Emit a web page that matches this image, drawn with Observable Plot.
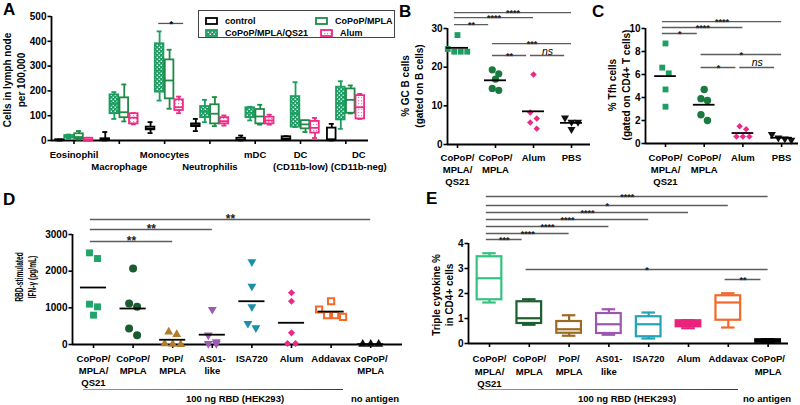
<!DOCTYPE html>
<html><head><meta charset="utf-8">
<script src="https://cdn.jsdelivr.net/npm/d3@7"></script>
<script src="https://cdn.jsdelivr.net/npm/@observablehq/plot@0.6"></script>
<style>
html,body{margin:0;padding:0;background:#fff;}
#root{position:relative;width:800px;height:405px;overflow:hidden;font-family:"Liberation Sans",Arial,Helvetica,sans-serif;font-weight:bold;color:#000;}
#root svg.layer{position:absolute;left:0;top:0;}
.t{position:absolute;white-space:nowrap;line-height:1;}
.ytitle{position:absolute;white-space:nowrap;text-align:center;transform-origin:center;}
#legA{position:absolute;left:198px;top:10px;width:195px;height:26px;border:1.5px solid #444;font-size:9px;}
#legA .it{position:absolute;display:flex;align-items:center;white-space:nowrap;}
#legA svg{margin-right:7px;}
</style></head><body>
<svg width="0" height="0" style="position:absolute">
 <defs>
  <pattern id="chk" patternUnits="userSpaceOnUse" width="4" height="4">
   <rect width="4" height="4" fill="#1e9e62"/>
   <rect x="0.6" y="0.6" width="1.4" height="1.4" fill="#fff"/>
   <rect x="2.6" y="2.6" width="1.4" height="1.4" fill="#fff"/>
  </pattern>
  <pattern id="dots" patternUnits="userSpaceOnUse" width="3" height="3">
   <rect width="3" height="3" fill="#fff"/>
   <rect x="1" y="1" width="1.2" height="1.2" fill="#f27fb2"/>
  </pattern>
 </defs>
</svg>
<div id="root"></div>
<script>
// ================= DATA =================
// Panel A : box summaries [lowWhisker, q1, median, q3, highWhisker]
const aCells = ["Eosinophil","Macrophage","Monocytes","Neutrophilis","mDC","DC\n(CD11b-low)","DC\n(CD11b-neg)"];
const aSeries = ["control","CoPoP/MPLA/QS21","CoPoP/MPLA","Alum"];
const aControl = [[0,0,1,3,4],[0,0,2,7,34],[30,43,48,54,74],[38,56,62,67,87],[0,0,2,9,20],[2,3,8,15,17],[0,2,4,50,67]];
const aQS21    = [[8,10,15,20,24],[87,108,148,184,195],[161,195,282,390,440],[74,92,117,137,164],[81,92,112,132,136],[54,54,110,177,235],[47,83,150,215,239]];
const aMPLA    = [[4,7,14,27,38],[77,92,114,172,226],[128,168,242,325,366],[58,67,108,144,175],[64,67,97,125,144],[34,47,65,80,80],[109,110,164,208,222]];
const aAlum    = [[0,0,4,9,11],[65,67,92,108,110],[110,121,134,164,177],[60,67,78,92,101],[64,67,81,94,104],[10,30,51,77,91],[87,87,134,181,188]];
const aTicks = [0,100,200,300,400,500];
const aSigCell = [2], aSigFrom = [1], aSigTo = [3], aSigY = [472], aSigText = ["*"];

// Panel B : % GC B cells
const bCats = ["CoPoP/\nMPLA/\nQS21","CoPoP/\nMPLA","Alum","PBS"];
const bQS21 = [28.3,24.7,24.0,24.0,24.0];
const bMPLA = [19.3,18.3,16.9,14.5,14.0];
const bAlum = [18.1,8.3,6.7,5.7,4.1];
const bPBS  = [6.9,5.8,5.8,3.9];
const bTicks = [0,10,20,30];
const bSigFrom = [0,0,0,1,1,2], bSigTo = [3,2,1,3,2,3];
const bSigY = [34.1,32.8,31.0,26.1,23.0,23.0];
const bSigText = ["****","****","**","***","**","ns"];

// Panel C : % Tfh cells
const cCats = ["CoPoP/\nMPLA/\nQS21","CoPoP/\nMPLA","Alum","PBS"];
const cQS21 = [8.7,6.6,6.1,4.7,3.2];
const cMPLA = [4.7,3.9,3.75,2.5,2.0];
const cAlum = [1.5,1.25,0.6,0.6,0.6];
const cPBS  = [0.8,0.5,0.4,0.3];
const cTicks = [0,2,4,6,8,10];
const cSigFrom = [0,0,0,1,1,2], cSigTo = [3,2,1,3,2,3];
const cSigY = [10.6,10.09,9.57,7.74,6.61,6.61];
const cSigText = ["****","****","*","*","*","ns"];

// Panel D : RBD-stimulated IFN-γ (pg/mL)
const dCats = ["CoPoP/\nMPLA/\nQS21","CoPoP/\nMPLA","PoP/\nMPLA","AS01-\nlike","ISA720","Alum","Addavax","CoPoP/\nMPLA"];
const dQS21 = [2500,2345,1100,1027,800];
const dMPLA = [2073,1118,1027,436,255];
const dPoP  = [345,273,20,9,0];
const dAS01 = [955,255,73,27,27];
const dISA  = [2255,1590,1027,573,455];
const dAlum = [1410,1180,318,27,27];
const dAdda = [1180,955,800,800,755];
const dNoAg = [10,10,10];
const dTicks = [0,1000,2000,3000];
const dSigFrom = [0,0,0], dSigTo = [7,3,2];
const dSigY = [3409,3136,2809];
const dSigText = ["**","**","**"];

// Panel E : triple cytokine % in CD4+ cells (box summaries)
const eCats = dCats;
const eLo  = [1.64,0.75,0.31,0.35,0.20,0.61,0.64,0.03];
const eQ1  = [1.75,0.80,0.41,0.40,0.27,0.67,0.93,0.05];
const eMed = [2.61,1.01,0.57,0.77,0.77,0.80,1.64,0.10];
const eQ3  = [3.47,1.67,0.88,1.20,1.07,0.91,1.91,0.15];
const eHi  = [3.61,1.77,1.13,1.37,1.24,0.93,2.01,0.17];
const eTicks = [0,1,2,3,4];
const eSigFrom = [0,0,0,0,0,0,0,1,6], eSigTo = [7,6,5,4,3,2,1,7,7];
const eSigY = [5.88,5.52,5.24,4.96,4.68,4.40,4.16,2.96,2.56];
const eSigText = ["****","*","****","****","****","****","***","*","**"];

// ================= HELPERS =================
const W = 800, H = 405;
const FONT = '"Liberation Sans", Arial, Helvetica, sans-serif';
const root = document.getElementById("root");
const TRI_DOWN = {draw(ctx, size){ const y = -Math.sqrt(size/(Math.sqrt(3)*3)); ctx.moveTo(0,-y*2); ctx.lineTo(-Math.sqrt(3)*y, y); ctx.lineTo(Math.sqrt(3)*y, y); ctx.closePath(); }};

function layout(l){ // pixel layout -> domains
  return Object.assign({}, l, {xdom:[(l.left-l.first)/l.step,(l.right-l.first)/l.step], kx:l.step, ky:(l.bottom-l.top)/(l.ydom[1]-l.ydom[0])});
}
const LA = layout({left:51,right:368,top:16,bottom:140,first:73.5,step:45.3,ydom:[0,500]});
const LB = layout({left:447,right:590,top:28,bottom:144,first:457,step:38,ydom:[0,30]});
const LC = layout({left:645,right:798,top:28,bottom:143,first:665,step:38.7,ydom:[0,10]});
const LD = layout({left:72,right:402,top:234,bottom:344,first:93,step:39.6,ydom:[0,3000]});
const LE = layout({left:468,right:788,top:243,bottom:343,first:489,step:39.8,ydom:[0,4]});

function axes(p, yticks, nCats){
  return [
    Plot.axisY(yticks, {anchor:"left", tickSize:3.5, tickPadding:1.5, strokeWidth:1.6, label:null, tickFormat:d=>String(d)}),
    Plot.axisX(d3.range(nCats), {anchor:"bottom", tickSize:4, tickFormat:()=>"", strokeWidth:1.6, label:null}),
    Plot.ruleX([p.xdom[0]], {y1:p.ydom[0], y2:p.ydom[1], strokeWidth:1.8}),
    Plot.ruleY([p.ydom[0]], {x1:p.xdom[0], x2:p.xdom[1], strokeWidth:1.8})
  ];
}
function catLabels(p, cats, dy, fs, lh){
  return Plot.text(d3.range(cats.length), {x:d=>d, y:p.ydom[0], text:d=>cats[d], lineAnchor:"top", dy, fontSize:fs, lineHeight:lh});
}
function mkPlot(p, marks){
  const svg = Plot.plot({
    width:W, height:H,
    marginLeft:p.left, marginRight:W-p.right, marginTop:p.top, marginBottom:H-p.bottom,
    x:{domain:p.xdom}, y:{domain:p.ydom},
    style:{background:"transparent", fontFamily:FONT, fontWeight:"bold", fontSize:"10px", color:"#000", overflow:"visible"},
    marks
  });
  svg.classList.add("layer");
  root.appendChild(svg);
}
function boxMarks(rows, {hw, cap, stroke, fill, sw}){
  return [
    Plot.ruleX(rows, {x:"x", y1:"lo", y2:"q1", stroke, strokeWidth:sw}),
    Plot.ruleX(rows, {x:"x", y1:"q3", y2:"hi", stroke, strokeWidth:sw}),
    Plot.ruleY(rows, {y:"lo", x1:d=>d.x-cap, x2:d=>d.x+cap, stroke, strokeWidth:sw}),
    Plot.ruleY(rows, {y:"hi", x1:d=>d.x-cap, x2:d=>d.x+cap, stroke, strokeWidth:sw}),
    Plot.rect(rows, {x1:d=>d.x-hw, x2:d=>d.x+hw, y1:"q1", y2:"q3", fill, stroke, strokeWidth:sw}),
    Plot.ruleY(rows, {y:"med", x1:d=>d.x-hw, x2:d=>d.x+hw, stroke, strokeWidth:sw})
  ];
}
function swarm(vals, idx, p, diam){
  const order = vals.map((v,i)=>i).sort((a,b)=>vals[b]-vals[a]);
  const rows = [];
  for (const i of order){
    const py = vals[i]*p.ky, r = rows[rows.length-1];
    if (r && Math.abs(r.y0-py) < diam) r.m.push(i); else rows.push({y0:py, m:[i]});
  }
  const out = [];
  for (const r of rows){ const n = r.m.length; r.m.forEach((i,j)=>out.push({x: idx + (j-(n-1)/2)*diam/p.kx, v: vals[i]})); }
  return out;
}
function scatterMarks(p, groups, diam, meanHalf){
  const marks = [];
  groups.forEach((g,i)=>{
    marks.push(Plot.dot(swarm(g.vals, i, p, diam), {x:"x", y:"v", symbol:g.sym, r:g.r, fill:g.fill, stroke:g.stroke||"none", strokeWidth:g.sw||0}));
  });
  const means = groups.map((g,i)=>({i, m:d3.mean(g.vals)}));
  marks.push(Plot.ruleY(means, {y:"m", x1:d=>d.i-meanHalf, x2:d=>d.i+meanHalf, stroke:"#000", strokeWidth:1.8}));
  return marks;
}
function sigMarks(from, to, ys, texts, fs){
  const rows = from.map((a,i)=>{ const b = to[i]; const x1 = a-0.08, x2 = b-(b-a===1?0.18:0); return {x1, x2, y:ys[i], t:texts[i], xm:(x1+x2)/2}; });
  return [
    Plot.ruleY(rows, {y:"y", x1:"x1", x2:"x2", stroke:"#5c5c5c", strokeWidth:1.4}),
    Plot.text(rows.filter(r=>r.t!=="ns"), {x:"xm", y:"y", text:"t", lineAnchor:"bottom", dy:3.5, fontSize:fs, fill:"#222"}),
    Plot.text(rows.filter(r=>r.t==="ns"), {x:"xm", y:"y", text:"t", lineAnchor:"bottom", dy:-1, fontSize:10.5, fontStyle:"italic", fontWeight:"normal"})
  ];
}
function addText(txt, left, top, cls, css){
  const d = document.createElement("div"); d.className = cls||"t"; d.textContent = txt; if (css) d.style.cssText += css;
  d.style.left = left+"px"; d.style.top = top+"px"; root.appendChild(d); return d;
}
function ytitle(html, cx, cy, size, lh, sx){
  const d = document.createElement("div"); d.className = "ytitle"; d.innerHTML = html;
  d.style.cssText += `left:${cx}px;top:${cy}px;font-size:${size}px;line-height:${lh}px;transform:translate(-50%,-50%) rotate(-90deg) scaleX(${sx||1});`;
  root.appendChild(d);
}

// ================= PANEL A =================
{
  const off = [-0.31,-0.11,0.11,0.32];
  const series = [aControl, aQS21, aMPLA, aAlum];
  const strokes = ["#000","#1e9e62","#1f8a45","#ee2b86"];
  const fills = ["#fff","url(#chk)","#fff","url(#dots)"];
  const marks = [...axes(LA, aTicks, aCells.length)];
  series.forEach((s,si)=>{
    const rows = s.map((b,g)=>({x:g+off[si], lo:b[0], q1:b[1], med:b[2], q3:b[3], hi:b[4]}));
    marks.push(...boxMarks(rows, {hw:0.095, cap:0.055, stroke:strokes[si], fill:fills[si], sw:1.8}));
  });
  const idx = d3.range(aCells.length);
  const lower = i => i===1 || i===3;
  marks.push(Plot.text(idx.filter(i=>!lower(i) && i<6), {x:d=>d, y:0, text:d=>aCells[d], lineAnchor:"top", dy:9.5, fontSize:9.5, lineHeight:1.25}));
  marks.push(Plot.text(idx.filter(i=>lower(i)), {x:d=>d, y:0, text:d=>aCells[d], lineAnchor:"top", dy:21.5, fontSize:9.5, lineHeight:1.25}));
  marks.push(Plot.text([6], {x:d=>d, y:0, text:d=>aCells[d], lineAnchor:"top", dx:13, dy:9.5, fontSize:9.5, lineHeight:1.25}));
  const sig = aSigCell.map((c,i)=>({x1:c+off[aSigFrom[i]]-0.02, x2:c+off[aSigTo[i]]+0.1, y:aSigY[i], t:aSigText[i]}));
  marks.push(Plot.ruleY(sig, {y:"y", x1:"x1", x2:"x2", stroke:"#555", strokeWidth:1.3}));
  marks.push(Plot.text(sig, {x:d=>(d.x1+d.x2)/2, y:"y", text:"t", lineAnchor:"bottom", dy:3.5, fontSize:9}));
  mkPlot(LA, marks);
  ytitle("Cells in lymph node<br>per 100,000", 15, 80, 10, 14);
  // legend
  const leg = document.createElement("div"); leg.id = "legA";
  const sw = (stroke, fill) => `<svg width="13" height="8"><rect x="1" y="1" width="11" height="6" fill="${fill}" stroke="${stroke}" stroke-width="1.8"/></svg>`;
  const items = [[aSeries[0], strokes[0], fills[0], 6, 5],[aSeries[1], strokes[1], fills[1], 6, 17],[aSeries[2], strokes[2], fills[2], 116, 5],[aSeries[3], strokes[3], fills[3], 121, 17]];
  items.forEach(([lab, st, fi, x, y])=>{
    const it = document.createElement("div"); it.className = "it"; it.style.left = x+"px"; it.style.top = y+"px";
    it.innerHTML = sw(st, fi) + `<span>${lab}</span>`; leg.appendChild(it);
  });
  root.appendChild(leg);
}

// ================= PANEL B =================
{
  const groups = [
    {vals:bQS21, sym:"square", fill:"#1e9e62", r:3.3},
    {vals:bMPLA, sym:"circle", fill:"#1b7a40", r:3.6},
    {vals:bAlum, sym:"diamond2", fill:"#ec2a85", r:2.9},
    {vals:bPBS,  sym:TRI_DOWN, fill:"#111", r:3.0}
  ];
  mkPlot(LB, [
    ...axes(LB, bTicks, bCats.length),
    ...scatterMarks(LB, groups, 6.5, 0.29),
    ...sigMarks(bSigFrom, bSigTo, bSigY, bSigText, 9),
    catLabels(LB, bCats, 8, 9.5, 1.25)
  ]);
  ytitle("% GC B cells<br>(gated on B cells)", 413, 86, 10, 14);
}

// ================= PANEL C =================
{
  const groups = [
    {vals:cQS21, sym:"square", fill:"#1e9e62", r:3.3},
    {vals:cMPLA, sym:"circle", fill:"#1b7a40", r:3.7},
    {vals:cAlum, sym:"diamond2", fill:"#ec2a85", r:2.9},
    {vals:cPBS,  sym:TRI_DOWN, fill:"#111", r:3.0}
  ];
  mkPlot(LC, [
    ...axes(LC, cTicks, cCats.length),
    ...scatterMarks(LC, groups, 6.5, 0.28),
    ...sigMarks(cSigFrom, cSigTo, cSigY, cSigText, 9),
    catLabels(LC, cCats, 9, 9.5, 1.25)
  ]);
  ytitle("% Tfh cells<br>(gated on CD4+ T cells)", 620, 85, 10, 14);
}

// ================= PANEL D =================
{
  const groups = [
    {vals:dQS21, sym:"square", fill:"#1fa56a", r:3.9},
    {vals:dMPLA, sym:"circle", fill:"#1a5c30", r:4},
    {vals:dPoP,  sym:"triangle", fill:"#b07c2c", r:3.3},
    {vals:dAS01, sym:TRI_DOWN, fill:"#9c5ab4", r:3.3},
    {vals:dISA,  sym:TRI_DOWN, fill:"#1b8fa8", r:3.3},
    {vals:dAlum, sym:"diamond2", fill:"#ec2a85", r:3.2},
    {vals:dAdda, sym:"square", fill:"#fff", stroke:"#f26a2a", r:3.5, sw:2},
    {vals:dNoAg, sym:"triangle", fill:"#111", r:3.3}
  ];
  mkPlot(LD, [
    ...axes(LD, dTicks, dCats.length),
    ...scatterMarks(LD, groups, 8, 0.33),
    ...sigMarks(dSigFrom, dSigTo, dSigY, dSigText, 12),
    catLabels(LD, dCats, 8.5, 9.5, 1.3)
  ]);
  ytitle("RBD-stimulated<br>IFN-γ (pg/mL)", 26, 277, 10, 13, 0.66);
}

// ================= PANEL E =================
{
  const strokes = ["#34c27f","#1d5e2f","#9b6b24","#9a58b0","#22a3b8","#e8247c","#f4682a","#000"];
  const fillsE  = ["#fff","#fff","#fff","#fff","#fff","#e8247c","#fff","#000"];
  const marks = [...axes(LE, eTicks, eCats.length)];
  eCats.forEach((c,i)=>{
    marks.push(...boxMarks([{x:i, lo:eLo[i], q1:eQ1[i], med:eMed[i], q3:eQ3[i], hi:eHi[i]}], {hw:0.31, cap:0.17, stroke:strokes[i], fill:fillsE[i], sw:2.2}));
  });
  marks.push(...sigMarks(eSigFrom, eSigTo, eSigY, eSigText, 9));
  marks.push(catLabels(LE, eCats, 10, 9.5, 1.3));
  mkPlot(LE, marks);
  ytitle("Triple cytokine %<br>in CD4+ cells", 443, 295, 10, 12.5);
}

// ================= LETTERS & GROUP NOTES =================
[["A",3,1],["B",399,3],["C",592,3],["D",3,191],["E",426,190]].forEach(([t,x,y])=>addText(t,x,y,"t","font-size:17px;"));
function groupNote(x1, x2, y, cx, cxNo){
  const ln = document.createElement("div");
  ln.style.cssText = `position:absolute;left:${x1}px;top:${y}px;width:${x2-x1}px;height:1.5px;background:linear-gradient(to right,#9a9a9a,#3a3a3a);`;
  root.appendChild(ln);
  addText("100 ng RBD (HEK293)", cx, 399, "t", "font-size:9.5px;transform:translate(-50%,-50%);");
  addText("no antigen", cxNo, 399, "t", "font-size:9.5px;transform:translate(-50%,-50%);");
}
groupNote(83, 343, 388.5, 235, 375);
groupNote(478, 738, 388.5, 627, 767);
</script>
</body></html>
